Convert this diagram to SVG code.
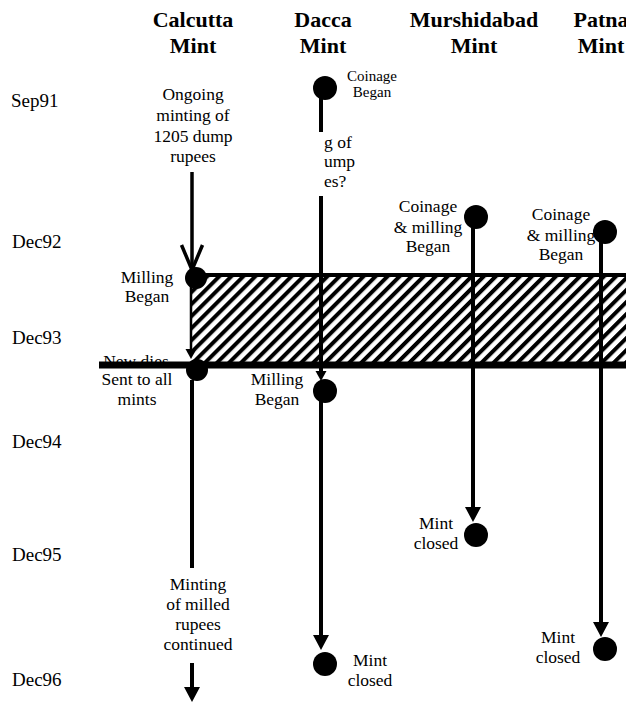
<svg xmlns="http://www.w3.org/2000/svg" width="626" height="702" viewBox="0 0 626 702" font-family="Liberation Serif" style="font-family:'Liberation Serif',serif">
<defs>
<pattern id="hatch" patternUnits="userSpaceOnUse" width="8.5" height="8.5" patternTransform="rotate(45)">
<rect x="0" y="0" width="4" height="8.5" fill="#000"/>
</pattern>
<marker id="arr" markerUnits="userSpaceOnUse" viewBox="0 0 15 16" refX="4" refY="8" markerWidth="15" markerHeight="16" orient="auto" overflow="visible">
<path d="M0,0 L15,8 L0,16 z" fill="#000"/>
</marker>
<marker id="arrS" markerUnits="userSpaceOnUse" viewBox="0 0 10 11" refX="3" refY="5.5" markerWidth="10" markerHeight="11" orient="auto" overflow="visible">
<path d="M0,0 L10,5.5 L0,11 z" fill="#000"/>
</marker>
<marker id="chev" markerUnits="userSpaceOnUse" viewBox="0 0 26 24" refX="25" refY="12" markerWidth="26" markerHeight="24" orient="auto" overflow="visible">
<path d="M0,1.5 L25,12 L0,22.5" fill="none" stroke="#000" stroke-width="3.5"/>
</marker>
</defs>
<rect width="626" height="702" fill="#fff"/>
<g id="headers" font-size="22" font-weight="bold" text-anchor="middle">
<text style="font-family:'Liberation Serif',serif" x="193" y="27">Calcutta</text><text style="font-family:'Liberation Serif',serif" x="193" y="53">Mint</text>
<text style="font-family:'Liberation Serif',serif" x="323" y="27">Dacca</text><text style="font-family:'Liberation Serif',serif" x="323" y="53">Mint</text>
<text style="font-family:'Liberation Serif',serif" x="474" y="27">Murshidabad</text><text style="font-family:'Liberation Serif',serif" x="474" y="53">Mint</text>
<text style="font-family:'Liberation Serif',serif" x="601" y="27">Patna</text><text style="font-family:'Liberation Serif',serif" x="601" y="53">Mint</text>
</g>

<g id="dates" font-size="19">
<text style="font-family:'Liberation Serif',serif" x="11" y="107">Sep91</text>
<text style="font-family:'Liberation Serif',serif" x="12" y="248">Dec92</text>
<text style="font-family:'Liberation Serif',serif" x="12" y="344">Dec93</text>
<text style="font-family:'Liberation Serif',serif" x="12" y="448">Dec94</text>
<text style="font-family:'Liberation Serif',serif" x="12" y="561">Dec95</text>
<text style="font-family:'Liberation Serif',serif" x="12" y="686">Dec96</text>
</g>

<g id="calcutta-ongoing" font-size="17.5" text-anchor="middle">
<text style="font-family:'Liberation Serif',serif" x="193" y="100">Ongoing</text>
<text style="font-family:'Liberation Serif',serif" x="193" y="121">minting of</text>
<text style="font-family:'Liberation Serif',serif" x="193" y="142">1205 dump</text>
<text style="font-family:'Liberation Serif',serif" x="193" y="162">rupees</text>
</g>

<g id="calcutta-milling" font-size="17.5" text-anchor="middle">
<text style="font-family:'Liberation Serif',serif" x="147" y="283">Milling</text>
<text style="font-family:'Liberation Serif',serif" x="147" y="302">Began</text>
<circle cx="196" cy="278" r="11" fill="#000"/>
</g>

<g id="milling-period">
<rect x="191" y="275" width="440" height="90" fill="url(#hatch)"/>
<line x1="191" y1="275" x2="626" y2="275" stroke="#000" stroke-width="4"/>
</g>

<g id="new-dies" font-size="17.5" text-anchor="middle">
<text style="font-family:'Liberation Serif',serif" x="136" y="367">New dies</text>
<circle cx="197" cy="370" r="11" fill="#000"/>
<line x1="99" y1="365" x2="626" y2="365" stroke="#000" stroke-width="7"/>
<text style="font-family:'Liberation Serif',serif" x="137" y="385">Sent to all</text>
<text style="font-family:'Liberation Serif',serif" x="137" y="405">mints</text>
</g>

<g id="calcutta-continued" font-size="17.5" text-anchor="middle">
<text style="font-family:'Liberation Serif',serif" x="198" y="590">Minting</text>
<text style="font-family:'Liberation Serif',serif" x="198" y="610">of milled</text>
<text style="font-family:'Liberation Serif',serif" x="198" y="630">rupees</text>
<text style="font-family:'Liberation Serif',serif" x="198" y="650">continued</text>
</g>

<g id="dacca-coinage" font-size="15" text-anchor="middle">
<text style="font-family:'Liberation Serif',serif" x="372" y="81">Coinage</text>
<text style="font-family:'Liberation Serif',serif" x="372" y="97">Began</text>
<circle cx="325" cy="88" r="12" fill="#000"/>
</g>

<g id="dacca-unknown" font-size="17.5">
<text style="font-family:'Liberation Serif',serif" x="324" y="148">g of</text>
<text style="font-family:'Liberation Serif',serif" x="324" y="167">ump</text>
<text style="font-family:'Liberation Serif',serif" x="324" y="187">es?</text>
</g>

<g id="dacca-milling" font-size="17.5" text-anchor="middle">
<text style="font-family:'Liberation Serif',serif" x="277" y="385">Milling</text>
<text style="font-family:'Liberation Serif',serif" x="277" y="405">Began</text>
<circle cx="325" cy="391" r="12" fill="#000"/>
</g>

<g id="dacca-closed" font-size="17.5" text-anchor="middle">
<text style="font-family:'Liberation Serif',serif" x="370" y="666">Mint</text>
<text style="font-family:'Liberation Serif',serif" x="370" y="686">closed</text>
<circle cx="325" cy="664" r="12" fill="#000"/>
</g>

<g id="murshidabad-coinage" font-size="17.5" text-anchor="middle">
<text style="font-family:'Liberation Serif',serif" x="428" y="212">Coinage</text>
<text style="font-family:'Liberation Serif',serif" x="428" y="233">&amp; milling</text>
<text style="font-family:'Liberation Serif',serif" x="428" y="252">Began</text>
<circle cx="476" cy="217" r="12" fill="#000"/>
</g>

<g id="murshidabad-closed" font-size="17.5" text-anchor="middle">
<text style="font-family:'Liberation Serif',serif" x="436" y="529">Mint</text>
<text style="font-family:'Liberation Serif',serif" x="436" y="549">closed</text>
<circle cx="476" cy="535" r="12" fill="#000"/>
</g>

<g id="patna-coinage" font-size="17.5" text-anchor="middle">
<text style="font-family:'Liberation Serif',serif" x="561" y="220">Coinage</text>
<text style="font-family:'Liberation Serif',serif" x="561" y="241">&amp; milling</text>
<text style="font-family:'Liberation Serif',serif" x="561" y="260">Began</text>
<circle cx="605" cy="232" r="12" fill="#000"/>
</g>

<g id="patna-closed" font-size="17.5" text-anchor="middle">
<text style="font-family:'Liberation Serif',serif" x="558" y="643">Mint</text>
<text style="font-family:'Liberation Serif',serif" x="558" y="663">closed</text>
<circle cx="605" cy="649" r="12" fill="#000"/>
</g>

<g id="connectors" stroke="#000" stroke-width="4" fill="none">
<line x1="192" y1="172" x2="192" y2="270" stroke-width="3.5" marker-end="url(#chev)"/>
<line x1="191" y1="285" x2="191" y2="352" stroke-width="2.5" marker-end="url(#arrS)"/>
<line x1="192" y1="380" x2="192" y2="568"/>
<line x1="192" y1="663" x2="192" y2="691" marker-end="url(#arr)"/>
<line x1="321" y1="95" x2="321" y2="132"/>
<line x1="321" y1="196" x2="321" y2="374" marker-end="url(#arrS)"/>
<line x1="321" y1="395" x2="321" y2="639" marker-end="url(#arr)"/>
<line x1="473" y1="220" x2="473" y2="511" marker-end="url(#arr)"/>
<line x1="601" y1="236" x2="601" y2="626" marker-end="url(#arr)"/>
</g>
</svg>
